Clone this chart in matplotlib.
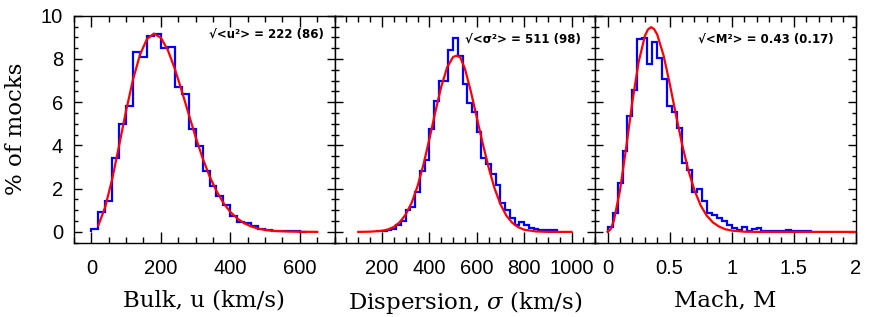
import numpy as np
import matplotlib.pyplot as plt
from matplotlib.ticker import MultipleLocator, FixedLocator

# bulk flow, 20 km/s bins (% of mocks)
bulk_edges = np.arange(0, 621, 20)
bulk_hist = [0.14, 0.90, 1.44, 3.41, 5.00, 5.83, 8.33, 8.08, 9.06, 9.15, 8.49, 8.57,
             6.72, 6.38, 4.75, 3.98, 2.80, 2.10, 1.68, 1.26, 0.72, 0.47, 0.41, 0.26,
             0.15, 0.08, 0.06, 0.05, 0.03, 0.02, 0.01]
bulk_fit_x = [20, 40, 60, 80, 100, 120, 140, 160, 180, 200, 220, 240, 260, 280, 300,
              320, 340, 360, 380, 400, 420, 440, 460, 480, 500, 520, 560, 600, 650]
bulk_fit_y = [0.30, 1.16, 2.45, 4.01, 5.61, 7.06, 8.20, 8.92, 9.17, 8.98, 8.41, 7.55,
              6.53, 5.45, 4.39, 3.42, 2.58, 1.89, 1.34, 0.92, 0.62, 0.40, 0.25, 0.15,
              0.09, 0.05, 0.02, 0.005, 0.001]

# dispersion, 20 km/s bins
disp_edges = np.arange(180, 941, 20)
disp_hist = [0.02, 0.05, 0.08, 0.15, 0.30, 0.50, 1.03, 1.14, 1.85, 2.80, 3.34, 4.77,
             6.06, 7.00, 7.00, 8.41, 8.95, 8.12, 6.83, 5.95, 5.54, 4.64, 3.41, 3.14,
             2.68, 2.18, 1.34, 1.03, 0.65, 0.31, 0.46, 0.31, 0.18, 0.12, 0.11, 0.11,
             0.10, 0.08]
disp_fit_x = [100, 150, 200, 225, 250, 275, 300, 325, 350, 375, 400, 425, 450, 475, 500,
              515, 530, 550, 575, 600, 625, 650, 675, 700, 725, 750, 775, 800, 850, 900, 1000]
disp_fit_y = [0.0, 0.01, 0.05, 0.11, 0.23, 0.45, 0.80, 1.34, 2.11, 3.11, 4.29, 5.54,
              6.71, 7.61, 8.09, 8.15, 8.08, 7.55, 6.5, 5.3, 4.1, 2.98, 2.02, 1.28, 0.75,
              0.42, 0.22, 0.10, 0.02, 0.0, 0.0]

# mach number, 0.04 bins
mach_edges = np.round(np.arange(0, 1.65, 0.04), 2)
mach_hist = [0.23, 0.88, 2.26, 3.75, 5.38, 6.54, 8.92, 8.95, 7.75, 8.77, 8.03, 7.08,
             5.84, 5.54, 4.80, 3.18, 2.84, 1.85, 2.00, 1.41, 0.88, 0.77, 0.65, 0.49,
             0.31, 0.18, 0.11, 0.23, 0.06, 0.15, 0.18, 0.06, 0.03, 0.03, 0.03, 0.03,
             0.11, 0.03, 0.03, 0.03, 0.03]
mach_fit_x = [0, 0.025, 0.05, 0.1, 0.15, 0.2, 0.25, 0.3, 0.325, 0.35, 0.375, 0.4, 0.45,
              0.5, 0.55, 0.6, 0.65, 0.7, 0.75, 0.8, 0.85, 0.9, 0.95, 1.0, 1.1, 1.2, 1.4, 2.0]
mach_fit_y = [0.0, 0.13, 0.51, 1.93, 3.92, 6.04, 7.86, 9.06, 9.36, 9.47, 9.38, 9.12, 8.18,
              6.87, 5.43, 4.05, 2.86, 1.92, 1.22, 0.74, 0.43, 0.24, 0.12, 0.06, 0.01, 0.0,
              0.0, 0.0]

labels = ["Bulk, u (km/s)", r"Dispersion, $\sigma$ (km/s)", "Mach, M"]
notes = ["√<u²> = 222 (86)", "√<σ²> = 511 (98)", "√<M²> = 0.43 (0.17)"]

plt.rcParams['font.family'] = ['Liberation Sans', 'DejaVu Sans']
plt.rcParams['mathtext.fontset'] = 'dejavuserif'
serif = {'family': 'DejaVu Serif', 'size': 16.5}

fig = plt.figure(figsize=(8.71, 3.17), dpi=100)
w = 0.2992
axes = [fig.add_axes([0.08496 + i * w, 0.2344, w, 0.7161]) for i in range(3)]

data = [(bulk_edges, bulk_hist, bulk_fit_x, bulk_fit_y),
        (disp_edges, disp_hist, disp_fit_x, disp_fit_y),
        (mach_edges, mach_hist, mach_fit_x, mach_fit_y)]
xlims = [(-50, 700), (0, 1100), (-0.1, 2.0)]
majors = [[0, 200, 400, 600], [200, 400, 600, 800, 1000], [0, 0.5, 1, 1.5, 2]]
tick_text = [["0", "200", "400", "600"], ["200", "400", "600", "800", "1000"],
             ["0", "0.5", "1", "1.5", "2"]]
minors = [50, 50, 0.1]
note_pos = [(0.958, 0.915), (0.945, 0.897), (0.915, 0.893)]

for i, ax in enumerate(axes):
    edges, hist, fx, fy = data[i]
    ax.stairs(hist, edges, baseline=0, color='#0000ff', lw=1.6)
    ax.plot(fx, fy, color='#ff0000', lw=1.6)
    ax.set_xlim(*xlims[i])
    ax.set_ylim(-0.5, 10)
    ax.xaxis.set_major_locator(FixedLocator(majors[i]))
    ax.set_xticklabels(tick_text[i])
    ax.xaxis.set_minor_locator(MultipleLocator(minors[i]))
    ax.yaxis.set_major_locator(MultipleLocator(2))
    ax.yaxis.set_minor_locator(MultipleLocator(0.5))
    ax.tick_params(axis='x', which='major', direction='in', top=True, length=8, width=1, pad=12, labelsize=14.5)
    ax.tick_params(axis='x', which='minor', direction='in', top=True, length=4, width=1)
    ax.tick_params(axis='y', which='major', direction='in', right=True, length=6, width=1, pad=8, labelsize=14.5)
    ax.tick_params(axis='y', which='minor', direction='in', right=True, length=3, width=1)
    if i > 0:
        ax.tick_params(axis='y', labelleft=False)
    for sp in ax.spines.values():
        sp.set_linewidth(1)
    ax.set_xlabel(labels[i], fontdict=serif, labelpad=8)
    ax.text(note_pos[i][0], note_pos[i][1], notes[i], transform=ax.transAxes,
            ha='right', va='center', fontsize=8.5, fontweight='bold',
            family=['DejaVu Sans'])

axes[0].set_ylabel("% of mocks", fontdict=serif, labelpad=10)

fig.savefig("out.png", dpi=100)
